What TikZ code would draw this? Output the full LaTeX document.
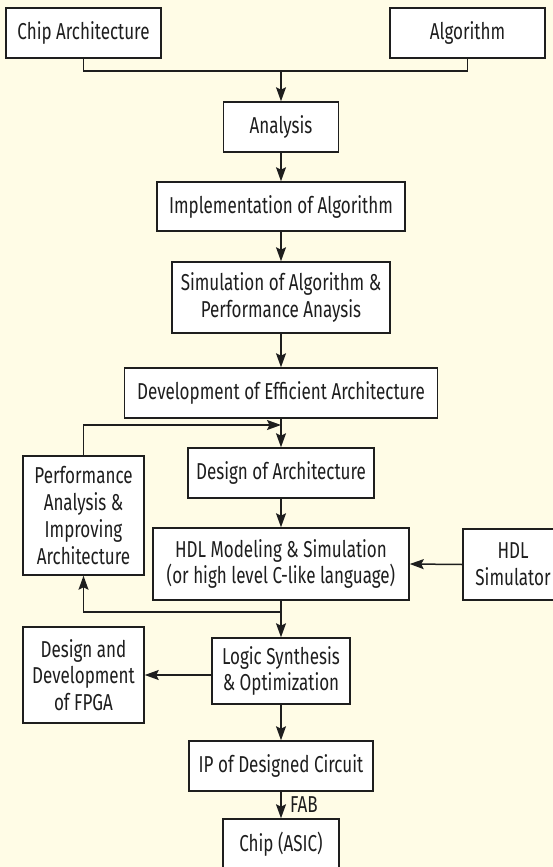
\documentclass[tikz,border=0pt]{standalone}
\usepackage{fontspec}
\setmainfont{Fira Sans}[FakeStretch=0.74]
\usetikzlibrary{arrows.meta}
\definecolor{paper}{RGB}{255,252,230}
\definecolor{ink}{RGB}{30,30,30}

\begin{document}
\begin{tikzpicture}[x=1pt, y=-1pt, ink, line width=1.5pt,
    box/.style={draw, fill=white, inner sep=0pt, align=center, font=\fontsize{23}{26.7}\selectfont},
    arr/.style={-{Stealth[length=14pt, width=10pt, inset=2.5pt]}}]

    \clip (0,0) rectangle (553,867);
    \fill[paper] (0,0) rectangle (553,867);

    % top inputs
    \node[box, minimum width=155, minimum height=50] (chip) at (83.5,33) {Chip Architecture};
    \node[box, minimum width=155, minimum height=50] (algo) at (467.5,33) {Algorithm};

    % main column
    \node[box, minimum width=115, minimum height=50] (analysis) at (281,127) {Analysis};
    \node[box, minimum width=248, minimum height=49] (impl) at (281,206.5) {Implementation of Algorithm};
    \node[box, minimum width=218, minimum height=71] (sim) at (281,297.5) {Simulation of Algorithm \&\\Performance Anaysis};
    \node[box, minimum width=313, minimum height=50] (deveff) at (281,393) {Development of Efficient Architecture};
    \node[box, minimum width=186, minimum height=50] (design) at (281,473) {Design of Architecture};
    \node[box, minimum width=256, minimum height=72] (hdl) at (281,564) {HDL Modeling \& Simulation\\(or high level C-like language)};
    \node[box, minimum width=138, minimum height=66] (logic) at (281,671) {Logic Synthesis\\\& Optimization};
    \node[box, minimum width=184, minimum height=50] (ip) at (281,766) {IP of Designed Circuit};
    \node[box, minimum width=116, minimum height=50] (asic) at (281,844) {Chip (ASIC)};

    % side boxes
    \node[box, minimum width=121, minimum height=119] (perf) at (83.5,515.5) {Performance\\Analysis \&\\Improving\\Architecture};
    \node[box, minimum width=100, minimum height=71] (hdlsim) at (513,564.5) {HDL\\Simulator};
    \node[box, minimum width=121, minimum height=96] (fpga) at (83.5,675) {Design and\\Development\\of FPGA};

    \coordinate (join) at (281,71);
    \coordinate (fbin) at (281,425);
    \coordinate (fbout) at (281,612);

    \draw (chip.south) |- (join) -| (algo.south);
    \draw[arr] (join) -- (analysis.north);
    \draw[arr] (analysis.south) -- (impl.north);
    \draw[arr] (impl.south) -- (sim.north);
    \draw[arr] (sim.south) -- (deveff.north);
    \draw[arr] (deveff.south) -- (design.north);
    \draw[arr] (design.south) -- (hdl.north);
    \draw[arr] (hdl.south) -- (logic.north);
    \draw[arr] (logic.south) -- (ip.north);
    \draw[arr] (ip.south) -- node[right, font=\fontsize{23}{26.7}\selectfont, xshift=5pt] (fab) {FAB} (asic.north);

    % feedback loop
    \draw[arr] (fbout) -| (perf.south);
    \draw[arr] (perf.north) |- (fbin);

    \draw[arr] (hdlsim.west) -- (hdl.east);
    \draw[arr] (logic.west |- fpga.east) -- (fpga.east);

\end{tikzpicture}
\end{document}
